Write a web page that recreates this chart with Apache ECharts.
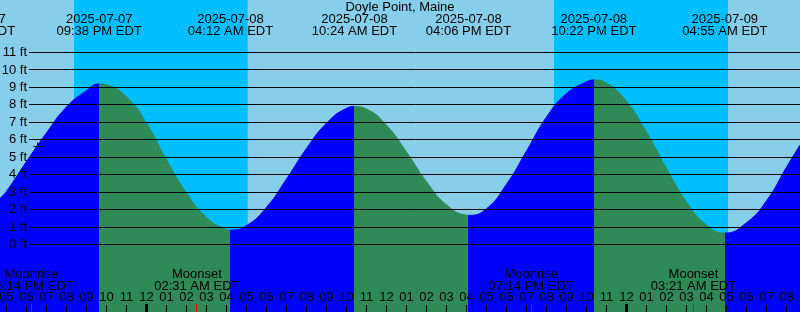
<!DOCTYPE html>
<html>
<head>
<meta charset="utf-8">
<script src="https://cdn.jsdelivr.net/npm/echarts@6/dist/echarts.min.js"></script>
<style>
html,body{margin:0;padding:0;background:#87ceeb;}
#chart{width:800px;height:312px;}
</style>
</head>
<body>
<div id="chart"></div>
<script>
// ---- data (hours counted from 2025-07-07 00:00 EDT) ----
const chartTitle = 'Doyle Point, Maine';
const viewStart = 16.675;
const viewEnd = 56.675;
const feetMin = -3.867;
const feetMax = 14.008;

const tideHours = [16.675, 17, 18, 19, 20, 21, 21.633, 22, 23, 24, 25, 26, 27, 28, 28.2,
  29, 30, 31, 32, 33, 34, 34.4, 35, 36, 37, 38, 39, 40, 40.1,
  41, 42, 43, 44, 45, 46, 46.367, 47, 48, 49, 50, 51, 52, 52.917,
  54, 55, 56, 56.675];
const tideFeet = [2.65, 3.05, 4.75, 6.4, 7.88, 8.82, 9.2, 9.15, 8.45, 6.95, 4.85, 2.95, 1.55, 0.87, 0.83,
  1.08, 2.13, 3.75, 5.5, 6.95, 7.8, 7.9, 7.76, 6.83, 5.3, 3.6, 2.27, 1.68, 1.67,
  2.05, 3.45, 5.35, 7.3, 8.65, 9.32, 9.43, 9.25, 8.2, 6.44, 4.36, 2.44, 1.11, 0.66,
  1.25, 2.5, 4.43, 5.7];

const extremeHours = [15.3, 21.633, 28.2, 34.4, 40.1, 46.367, 52.917];
const extremeDates = ['2025-07-07', '2025-07-07', '2025-07-08', '2025-07-08', '2025-07-08', '2025-07-08', '2025-07-09'];
const extremeTimes = ['03:18 PM EDT', '09:38 PM EDT', '04:12 AM EDT', '10:24 AM EDT', '04:06 PM EDT', '10:22 PM EDT', '04:55 AM EDT'];

const phaseBounds = [16, 21.633, 28.2, 34.4, 40.1, 46.367, 52.917, 57];
const phaseRising = [true, false, true, false, true, false, true];

const nightStarts = [20.375, 44.375];
const nightEnds = [29.06, 53.075];

const moonHours = [18.233, 26.517, 43.233, 51.35];
const moonNames = ['Moonrise', 'Moonset', 'Moonrise', 'Moonset'];
const moonTimes = ['06:14 PM EDT', '02:31 AM EDT', '07:14 PM EDT', '03:21 AM EDT'];

const feetTicks = [0, 1, 2, 3, 4, 5, 6, 7, 8, 9, 10, 11];
const feetLabels = ['0 ft', '1 ft', '2 ft', '3 ft', '4 ft', '5 ft', '6 ft', '7 ft', '8 ft', '9 ft', '10 ft', '11 ft'];

const hourTicks = [17, 18, 19, 20, 21, 22, 23, 24, 25, 26, 27, 28, 29, 30, 31, 32, 33, 34, 35, 36,
  37, 38, 39, 40, 41, 42, 43, 44, 45, 46, 47, 48, 49, 50, 51, 52, 53, 54, 55, 56];
const hourLabels = ['05', '06', '07', '08', '09', '10', '11', '12', '01', '02', '03', '04', '05', '06', '07', '08', '09', '10', '11', '12',
  '01', '02', '03', '04', '05', '06', '07', '08', '09', '10', '11', '12', '01', '02', '03', '04', '05', '06', '07', '08'];
const midnightHours = [24, 48];

const nowMark = [18.54, 5.6];

// ---- styles ----
const FONT = '13px "Liberation Sans", Arial, sans-serif';
const DAY = '#87ceeb', NIGHT = '#00bfff', RISE = '#0000ff', FALL = '#2e8b57';

const chart = echarts.init(document.getElementById('chart'), null, {renderer: 'canvas'});

const crisp = v => Math.floor(v) + 0.5;

const option = {
  animation: false,
  backgroundColor: DAY,
  grid: {left: 0, right: 0, top: 0, bottom: 0, containLabel: false},
  xAxis: {type: 'value', min: viewStart, max: viewEnd, show: false},
  yAxis: {type: 'value', min: feetMin, max: feetMax, show: false},
  visualMap: {
    show: false,
    type: 'piecewise',
    dimension: 0,
    seriesIndex: 1,
    pieces: phaseRising.map((r, i) => ({gte: phaseBounds[i], lt: phaseBounds[i + 1], color: r ? RISE : FALL})),
    outOfRange: {color: RISE}
  },
  series: [
    { // night bands
      type: 'custom', z: 1, silent: true,
      data: nightStarts.map((s, i) => [s, nightEnds[i]]),
      renderItem(params, api) {
        const p1 = api.coord([api.value(0), feetMax]);
        const p2 = api.coord([api.value(1), feetMin]);
        return {type: 'rect', shape: {x: p1[0], y: p1[1], width: p2[0] - p1[0], height: p2[1] - p1[1]}, style: {fill: NIGHT}};
      }
    },
    { // tide curve
      type: 'line', z: 2, silent: true,
      data: tideHours.map((h, i) => [h, tideFeet[i]]),
      smooth: 0.5,
      symbol: 'none',
      lineStyle: {width: 1},
      areaStyle: {opacity: 1, origin: 'start'}
    },
    { // feet grid lines and labels
      type: 'custom', z: 3, silent: true,
      data: feetTicks.map((v, i) => [viewStart, v, i]),
      renderItem(params, api) {
        const y = api.coord([api.value(0), api.value(1)])[1];
        const yy = crisp(y);
        return {type: 'group', children: [
          {type: 'line', shape: {x1: 29, y1: yy, x2: 800, y2: yy}, style: {stroke: '#000', lineWidth: 1}},
          {type: 'text', x: 27, y: y, style: {text: feetLabels[api.value(2)], font: FONT, fill: '#000', align: 'right', verticalAlign: 'middle'}}
        ]};
      }
    },
    { // hour ticks and labels
      type: 'custom', z: 3, silent: true,
      data: hourTicks.map((h, i) => [h, feetMin, i]),
      renderItem(params, api) {
        const h = api.value(0);
        const x = api.coord([h, feetMin])[0];
        const big = midnightHours.indexOf(h) >= 0;
        return {type: 'group', children: [
          {type: 'line', shape: {x1: crisp(x), y1: big ? 304 : 305, x2: crisp(x), y2: 312}, style: {stroke: '#000', lineWidth: big ? 3 : 1}},
          {type: 'text', x: x, y: 297, style: {text: hourLabels[api.value(2)], font: FONT, fill: '#000', align: 'center', verticalAlign: 'middle'}}
        ]};
      }
    },
    { // moon events
      type: 'custom', z: 3, silent: true,
      data: moonHours.map((h, i) => [h, feetMin, i]),
      renderItem(params, api) {
        const x = api.coord([api.value(0), feetMin])[0];
        const i = api.value(2);
        return {type: 'group', children: [
          {type: 'line', shape: {x1: crisp(x), y1: 304, x2: crisp(x), y2: 312}, style: {stroke: '#ff0000', lineWidth: 1}},
          {type: 'text', x: x, y: 274, style: {text: moonNames[i], font: FONT, fill: '#000', align: 'center', verticalAlign: 'middle'}},
          {type: 'text', x: x, y: 286, style: {text: moonTimes[i], font: FONT, fill: '#000', align: 'center', verticalAlign: 'middle'}}
        ]};
      }
    },
    { // tide extreme labels at the top
      type: 'custom', z: 3, silent: true,
      data: extremeHours.map((h, i) => [h, feetMax, i]),
      renderItem(params, api) {
        const x = api.coord([api.value(0), feetMax])[0];
        const i = api.value(2);
        return {type: 'group', children: [
          {type: 'text', x: x, y: 19.5, style: {text: extremeDates[i], font: FONT, fill: '#000', align: 'center', verticalAlign: 'middle'}},
          {type: 'text', x: x, y: 31.5, style: {text: extremeTimes[i], font: FONT, fill: '#000', align: 'center', verticalAlign: 'middle'}}
        ]};
      }
    },
    { // current-time cross
      type: 'custom', z: 4, silent: true,
      data: [nowMark],
      renderItem(params, api) {
        const p = api.coord([api.value(0), api.value(1)]);
        const cx = crisp(p[0]), cy = crisp(p[1]);
        return {type: 'group', children: [
          {type: 'line', shape: {x1: cx - 4, y1: cy, x2: cx + 5, y2: cy}, style: {stroke: '#000', lineWidth: 1}},
          {type: 'line', shape: {x1: cx, y1: cy - 4, x2: cx, y2: cy + 5}, style: {stroke: '#000', lineWidth: 1}}
        ]};
      }
    }
  ],
  title: {
    text: chartTitle, left: 'center', top: 1,
    textStyle: {fontFamily: '"Liberation Sans", Arial, sans-serif', fontSize: 13, fontWeight: 'normal', color: '#000'},
    padding: 0
  }
};
chart.setOption(option);
</script>
</body>
</html>
